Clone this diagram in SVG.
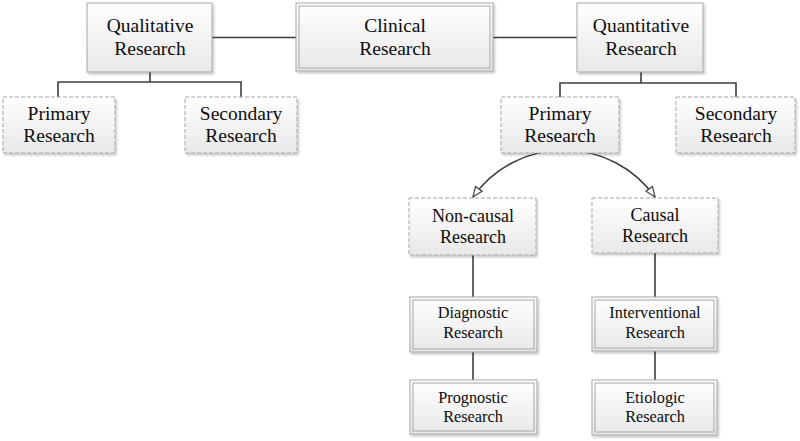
<svg xmlns="http://www.w3.org/2000/svg" width="800" height="441" viewBox="0 0 800 441">
<defs>
<linearGradient id="g" x1="0" y1="0" x2="0" y2="1">
<stop offset="0" stop-color="#ffffff"/>
<stop offset="1" stop-color="#e8e8e8"/>
</linearGradient>
<filter id="sh" x="-10%" y="-10%" width="125%" height="130%">
<feDropShadow dx="1.5" dy="2" stdDeviation="1.2" flood-color="#000" flood-opacity="0.22"/>
</filter>
<marker id="arr" viewBox="0 0 12 10" refX="11" refY="5" markerWidth="12" markerHeight="10" markerUnits="userSpaceOnUse" orient="auto">
<path d="M1,1 L11,5 L1,9 Z" fill="#fff" stroke="#444" stroke-width="1.2"/>
</marker>
</defs>
<style>
.box{fill:url(#g);stroke:#a6a6a6;stroke-width:1;filter:url(#sh)}
.dash{fill:url(#g);stroke:#a6a6a6;stroke-width:1;stroke-dasharray:4 2;filter:url(#sh)}
.inner{fill:none;stroke:#a6a6a6;stroke-width:1}
.ln{fill:none;stroke:#3f3f3f;stroke-width:1.6}
.arc{fill:none;stroke:#3f3f3f;stroke-width:1.6;marker-end:url(#arr)}
text{font-family:"Liberation Serif","Times New Roman",serif;fill:#0d0d0d;text-anchor:middle}
.t1{font-size:19.5px}
.t2{font-size:18px}
.t3{font-size:16.3px}
</style>
<rect width="800" height="441" fill="#fff"/>
<g id="connectors">
<path class="ln" d="M212,37.5 H296"/>
<path class="ln" d="M493,37.5 H577"/>
<path class="ln" d="M150,72 V82 M58,97 V82 H241 V97"/>
<path class="ln" d="M641,72 V83 M560,97 V83 H736 V97"/>
<path class="arc" d="M564,150 A111.6,111.6 0 0 0 473,197"/>
<path class="arc" d="M564,150 A111.6,111.6 0 0 1 655,197"/>
<path class="ln" d="M473,255 V297 M473,352 V380"/>
<path class="ln" d="M655,253 V297 M655,351 V380"/>
</g>
<g id="qualitative">
<rect class="box" x="87" y="3" width="125" height="69"/>
<text class="t1" x="150" y="32">Qualitative</text>
<text class="t1" x="150" y="55">Research</text>
</g>
<g id="clinical">
<rect class="box" x="296" y="3" width="197" height="68"/>
<rect class="inner" x="299" y="6" width="191" height="62"/>
<text class="t1" x="395" y="32">Clinical</text>
<text class="t1" x="395" y="55">Research</text>
</g>
<g id="quantitative">
<rect class="box" x="577" y="3" width="126" height="69"/>
<text class="t1" x="641" y="32">Quantitative</text>
<text class="t1" x="641" y="55">Research</text>
</g>
<g id="qual-primary">
<rect class="dash" x="3" y="97" width="112" height="56"/>
<text class="t1" x="59" y="120">Primary</text>
<text class="t1" x="59" y="142">Research</text>
</g>
<g id="qual-secondary">
<rect class="dash" x="185" y="97" width="112" height="56"/>
<text class="t1" x="241" y="120">Secondary</text>
<text class="t1" x="241" y="142">Research</text>
</g>
<g id="quant-primary">
<rect class="dash" x="501" y="97" width="118" height="56"/>
<text class="t1" x="560" y="120">Primary</text>
<text class="t1" x="560" y="142">Research</text>
</g>
<g id="quant-secondary">
<rect class="dash" x="676" y="97" width="119" height="56"/>
<text class="t1" x="736" y="120">Secondary</text>
<text class="t1" x="736" y="142">Research</text>
</g>
<g id="noncausal">
<rect class="dash" x="409" y="198" width="127" height="57"/>
<text class="t2" x="473" y="222">Non-causal</text>
<text class="t2" x="473" y="243">Research</text>
</g>
<g id="causal">
<rect class="dash" x="592" y="198" width="126" height="55"/>
<text class="t2" x="655" y="221">Causal</text>
<text class="t2" x="655" y="242">Research</text>
</g>
<g id="diagnostic">
<rect class="box" x="410" y="297" width="127" height="55"/>
<rect class="inner" x="413" y="300" width="121" height="49"/>
<text class="t3" x="473" y="318">Diagnostic</text>
<text class="t3" x="473" y="338">Research</text>
</g>
<g id="prognostic">
<rect class="box" x="410" y="380" width="127" height="54"/>
<rect class="inner" x="413" y="383" width="121" height="48"/>
<text class="t3" x="473" y="403">Prognostic</text>
<text class="t3" x="473" y="422">Research</text>
</g>
<g id="interventional">
<rect class="box" x="592" y="297" width="125" height="54"/>
<rect class="inner" x="595" y="300" width="119" height="48"/>
<text class="t3" x="655" y="318">Interventional</text>
<text class="t3" x="655" y="338">Research</text>
</g>
<g id="etiologic">
<rect class="box" x="592" y="380" width="125" height="55"/>
<rect class="inner" x="595" y="383" width="119" height="49"/>
<text class="t3" x="655" y="403">Etiologic</text>
<text class="t3" x="655" y="422">Research</text>
</g>
</svg>
